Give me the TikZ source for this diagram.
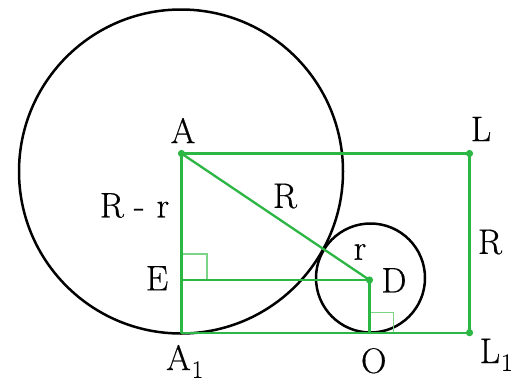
\documentclass[tikz,border=0pt]{standalone}
\usepackage{fontspec}
\newfontfamily\lblfont{Latin Modern Roman}[FakeBold=0.5]
\usetikzlibrary{calc}
\definecolor{gline}{RGB}{44,182,68}
\definecolor{gthin}{RGB}{125,212,135}
\begin{document}
\begin{tikzpicture}[x=1pt,y=-1pt,
  gl/.style={draw=gline,line width=2.3pt},
  thinmark/.style={draw=gthin,line width=1.1pt},
  circ/.style={draw=black,line width=2.5pt},
  dotp/.style={fill=gline},
  lbl/.style={inner sep=0pt,font=\lblfont\fontsize{35.5}{40}\selectfont}]
\useasboundingbox (0,0) rectangle (527,383);
\coordinate (A) at (181.5,153.5);
\coordinate (L) at (469.5,153.5);
\coordinate (L1) at (469.5,332.7);
\coordinate (A1) at (181.5,332.7);
\coordinate (E) at (181.5,280);
\coordinate (D) at (369.5,280);
\coordinate (O) at (369.5,332.7);
\coordinate (Cb) at (181,171.5);
\coordinate (Cs) at (370.5,278);
% circles
\draw[circ] (Cb) circle (162);
\draw[circ] (Cs) circle (54.5);
% right angle marks
\draw[thinmark] ($(E)+(0,-26)$) -- ++(25.5,0) -- ++(0,26);
\draw[thinmark] ($(O)+(0,-20)$) -- ++(24,0) -- ++(0,20);
% green lines
\draw[gl,line join=round] (A) -- (L) -- (L1) -- (A1) -- cycle;
\draw[gl] (A) -- (D);
\draw[gl] (E) -- (D);
\draw[gl] (D) -- (O);
\foreach \p in {A,L,L1,D} \fill[dotp] (\p) circle (3.6);
% labels
\node[lbl] (lA) at (183,130.5) {A};
\node[lbl] (lL) at (481,129) {L};
\node[lbl] (lRr) at (134.5,205.5) {R\hspace{10pt}-\hspace{12pt}r};
\node[lbl] (lR1) at (285,196) {R};
\node[lbl] (lr) at (360,252) {r};
\node[lbl] (lR2) at (490,242) {R};
\node[lbl] (lE) at (157,278.3) {E};
\node[lbl] (lD) at (394,280.3) {D};
\node[lbl,anchor=base west] (lA1) at (166,370) {A\hspace{1pt}\textsubscript{1}};
\node[lbl] (lO) at (373.7,360.8) {O};
\node[lbl,anchor=base west] (lL1) at (479.5,363) {L\hspace{1pt}\textsubscript{1}};
\end{tikzpicture}
\end{document}
